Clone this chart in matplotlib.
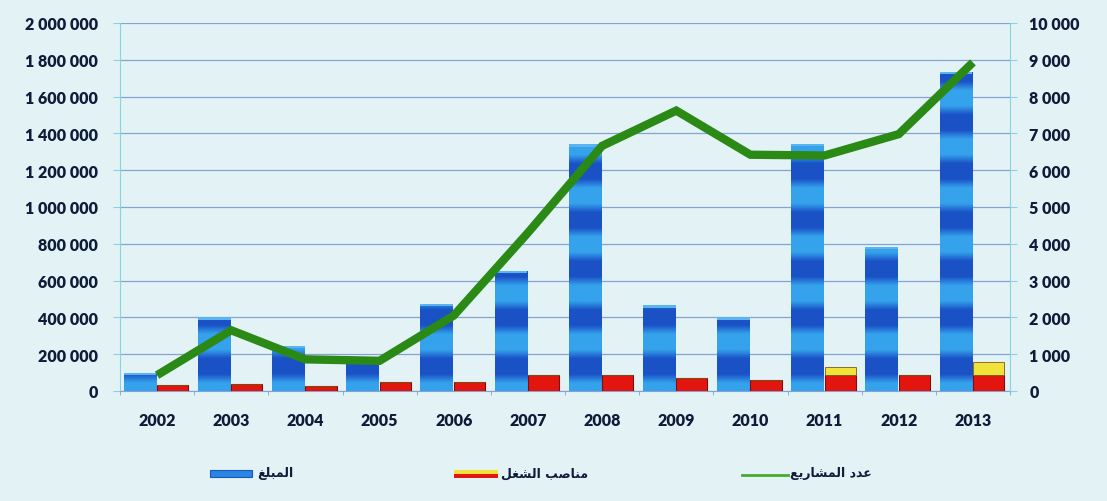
import numpy as np
import matplotlib
matplotlib.use("Agg")
import matplotlib.pyplot as plt
from matplotlib.patches import Rectangle
from matplotlib.lines import Line2D
from matplotlib.ticker import FuncFormatter, MultipleLocator

# ---------------- data ----------------
years = ["2002", "2003", "2004", "2005", "2006", "2007", "2008",
         "2009", "2010", "2011", "2012", "2013"]
amount = [100000, 400000, 245000, 160000, 472000, 652000, 1340000,
          465000, 400000, 1345000, 782000, 1735000]          # المبلغ (left axis)
jobs_red = [33000, 38000, 27000, 49000, 49000, 85000, 85000,
            71000, 60000, 85000, 85000, 85000]               # مناصب الشغل (red part)
jobs_yellow = [0, 0, 0, 0, 0, 0, 0, 0, 0, 45000, 0, 73000]    # yellow upper part
projects = [430, 1650, 860, 820, 2050, 4300, 6660, 7620, 6420,
            6400, 6980, 8930]                               # عدد المشاريع (right axis)

# shaped Arabic labels (presentation forms, visual order)
lbl_amount = "\uFECE\uFEE0\uFE92\uFEE4\uFEDF\uFE8D"
lbl_jobs = "\uFEDE\uFED0\uFEB8\uFEDF\uFE8D \uFE90\uFEBB\uFE8E\uFEE8\uFEE3"
lbl_proj = "\uFECA\uFEF3\uFEAD\uFE8E\uFEB8\uFEE4\uFEDF\uFE8D \uFEA9\uFEAA\uFECB"

BG = "#e3f3f5"
GRID = "#86a2d2"
SPINE = "#86d3e3"
TXT = "#0f1b3a"
BLUE_D = np.array([0x1a, 0x52, 0xc6]) / 255
BLUE_L = np.array([0x35, 0xa2, 0xec]) / 255
RED = "#e3150f"
YELLOW = "#f1e23a"
GREEN = "#2b8a15"

plt.rcParams["font.family"] = ["Lato", "DejaVu Sans"]

fig = plt.figure(figsize=(11.07, 5.02), dpi=100, facecolor=BG)
ax = fig.add_axes([120 / 1107, 1 - 392 / 502, 890 / 1107, 368 / 502])
ax.set_facecolor(BG)
ax2 = ax.twinx()

x = np.arange(len(years))

# banded blue texture image
nrow = 600
yy = np.linspace(0, 2000000, nrow)
phase = (yy % 265000) / 265000.0
t = np.clip(0.5 + 0.9 * np.cos(2 * np.pi * phase), 0, 1)
img = (BLUE_D[None, :] * (1 - t[:, None]) + BLUE_L[None, :] * t[:, None])
img = np.repeat(img[:, None, :], 2, axis=1)

bw = 0.44
blue_bars = ax.bar(x - 0.45, amount, width=bw, align="edge", color=BLUE_L,
                   linewidth=0, zorder=2)
for b in blue_bars:
    im = ax.imshow(img, origin="lower", aspect="auto",
                   extent=[b.get_x(), b.get_x() + b.get_width(), 0, 2000000],
                   zorder=2.1, interpolation="bilinear")
    im.set_clip_path(b)
    ax.bar(b.get_x(), 12000, bottom=b.get_height() - 12000, width=b.get_width(),
           align="edge", color="#5ab4ef", linewidth=0, zorder=2.2)
ax.set_xlim(-0.5, len(years) - 0.5)
ax.set_ylim(0, 2000000)
ax2.set_ylim(0, 10000)

ax.bar(x + 0.0, jobs_red, width=0.42, align="edge", color=RED,
       edgecolor="#7a1010", linewidth=0.8, zorder=3)
ax.bar(x + 0.0, jobs_yellow, bottom=jobs_red, width=0.42, align="edge",
       color=YELLOW, edgecolor="#7a5a10", linewidth=0.6, zorder=3)

ax2.plot(x, projects, color=GREEN, linewidth=6, solid_joinstyle="miter",
         solid_capstyle="butt", zorder=5)
ax.set_zorder(ax2.get_zorder() - 1)
ax2.patch.set_visible(False)

# grid & axes style
ax.yaxis.set_major_locator(MultipleLocator(200000))
ax2.yaxis.set_major_locator(MultipleLocator(1000))
ax.grid(axis="y", color=GRID, linewidth=0.9, zorder=0)
ax.set_axisbelow(True)

fmt = lambda v, p: f"{int(round(v)):,}".replace(",", " ")
ax.yaxis.set_major_formatter(FuncFormatter(fmt))
ax2.yaxis.set_major_formatter(FuncFormatter(fmt))

for a in (ax, ax2):
    for s in a.spines.values():
        s.set_visible(False)
ax.spines["left"].set_visible(True)
ax.spines["left"].set_color(SPINE)
ax2.spines["right"].set_visible(True)
ax2.spines["right"].set_color(SPINE)
ax.spines["bottom"].set_visible(True)
ax.spines["bottom"].set_color(GRID)

ax.set_xticks(x)
ax.set_xticklabels(years)
ax.set_xticks(np.arange(len(years) + 1) - 0.5, minor=True)
ax.tick_params(axis="x", which="major", length=0, pad=15, labelsize=11.5,
               labelcolor=TXT)
ax.tick_params(axis="x", which="minor", length=3, color=GRID)
for lab in ax.get_xticklabels():
    lab.set_fontweight("heavy")

ax.tick_params(axis="y", length=5, color=SPINE, pad=11, labelsize=11.5,
               labelcolor=TXT)
ax2.tick_params(axis="y", length=5, color=SPINE, pad=9, labelsize=11.5,
                labelcolor=TXT)
for lab in ax.get_yticklabels() + ax2.get_yticklabels():
    lab.set_fontweight("heavy")

# legend (manual, below plot)
W, H = 1107, 502
def fx(px): return px / W
def fy(py): return 1 - py / H

fig.patches.append(Rectangle((fx(210), fy(478)), fx(42), 7 / H,
                             transform=fig.transFigure, facecolor="#2a86e0",
                             edgecolor="#1a55c8", linewidth=0.8))
fig.text(fx(257), fy(474), lbl_amount, ha="left", va="center", fontsize=9,
         fontweight="bold", color=TXT, family=["DejaVu Sans"])

fig.patches.append(Rectangle((fx(454), fy(479)), fx(44), 4 / H,
                             transform=fig.transFigure, facecolor=RED,
                             edgecolor="none"))
fig.patches.append(Rectangle((fx(454), fy(475)), fx(44), 4 / H,
                             transform=fig.transFigure, facecolor=YELLOW,
                             edgecolor="none"))
fig.text(fx(501), fy(474), lbl_jobs, ha="left", va="center", fontsize=9,
         fontweight="bold", color=TXT, family=["DejaVu Sans"])

fig.lines.append(Line2D([fx(742), fx(788)], [fy(476), fy(476)],
                        transform=fig.transFigure, color="#4aa82a",
                        linewidth=2))
fig.text(fx(790), fy(474), lbl_proj, ha="left", va="center", fontsize=9,
         fontweight="bold", color=TXT, family=["DejaVu Sans"])

fig.savefig("out.png", dpi=100, facecolor=BG)
